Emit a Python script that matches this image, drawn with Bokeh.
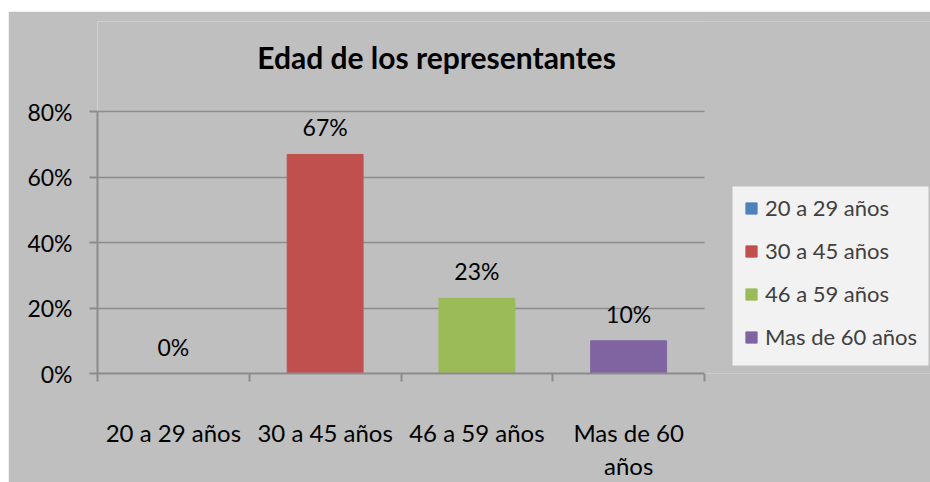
from bokeh.plotting import figure
from bokeh.models import (ColumnDataSource, Range1d, FixedTicker,
                          NumeralTickFormatter, LinearAxis, BoxAnnotation,
                          LabelSet, Label, Legend, LegendItem, Spacer)
from bokeh.layouts import column, row
from bokeh.core.properties import value
from bokeh.embed import file_html
from bokeh.resources import INLINE

# ---- data ----
categories = ["20 a 29 años", "30 a 45 años", "46 a 59 años", "Mas de 60 años"]
values = [0.0, 0.67, 0.23, 0.10]
value_labels = ["0%", "67%", "23%", "10%"]
colors = ["#4f81bd", "#c0504d", "#9bbb59", "#8064a2"]
y_ticks = [0, 0.2, 0.4, 0.6, 0.8]
category_tick_labels = ["20 a 29 años", "30 a 45 años", "46 a 59 años", "Mas de 60\naños"]
title_text = "Edad de los representantes"

FONT = "Lato"
BG = "#bfbfbf"
LINE = "#8c8c8c"

n = len(categories)
centers = [i + 0.5 for i in range(n)]
src = ColumnDataSource(dict(x=centers, cat=categories, val=values,
                            lab=value_labels, color=colors))

# layout geometry (pixels)
W, H = 922, 471
LEFT, TOP, BOTTOM = 89, 10, 107
PLOT_W = 607          # width taken by the four categories
ZERO_TO_80 = 263      # pixels from 0% to 80%
frame_w = W - LEFT
frame_h = H - TOP - BOTTOM
x_end = n * frame_w / PLOT_W
y_top = 0.8 * frame_h / ZERO_TO_80
px_x = n / PLOT_W          # data units per pixel (x)
px_y = 0.8 / ZERO_TO_80    # data units per pixel (y)

p = figure(width=W, height=H, x_range=Range1d(0, x_end),
           y_range=Range1d(0, y_top), output_backend="svg", toolbar_location=None,
           x_axis_location=None, min_border_left=LEFT, min_border_right=0,
           min_border_top=TOP, min_border_bottom=BOTTOM)
p.background_fill_color = BG
p.border_fill_color = BG
p.outline_line_color = None

r = p.vbar(x="x", top="val", width=0.5, color="color", source=src)

# y axis
ya = p.yaxis[0]
ya.ticker = FixedTicker(ticks=y_ticks)
ya.bounds = (0, 0.8)
ya.formatter = NumeralTickFormatter(format="0%")
ya.axis_line_color = LINE
ya.axis_line_width = 2
ya.major_tick_line_color = LINE
ya.major_tick_line_width = 2
ya.major_tick_in = 0
ya.major_tick_out = 8
ya.minor_tick_line_color = None
ya.major_label_standoff = 17
ya.major_label_text_font = FONT
ya.major_label_text_font_size = "23px"
ya.major_label_text_color = "#000000"

p.ygrid.ticker = FixedTicker(ticks=y_ticks)
p.ygrid.grid_line_color = LINE
p.ygrid.grid_line_width = 1.5
p.xgrid.grid_line_color = None

# keep the grid inside the category area
p.add_layout(BoxAnnotation(left=n, fill_color=BG, fill_alpha=1.0, line_color=None))

# x axis: boundary tick marks
tick_axis = LinearAxis(ticker=FixedTicker(ticks=list(range(n + 1))), bounds=(0, n))
tick_axis.axis_line_color = LINE
tick_axis.axis_line_width = 2
tick_axis.major_tick_line_color = LINE
tick_axis.major_tick_line_width = 2
tick_axis.major_tick_in = 0
tick_axis.major_tick_out = 8
tick_axis.minor_tick_line_color = None
tick_axis.major_label_text_font_size = "1px"
tick_axis.major_label_text_color = None
tick_axis.major_label_standoff = 0
p.add_layout(tick_axis, "below")

# x axis: category labels
cat_axis = LinearAxis(ticker=FixedTicker(ticks=centers))
cat_axis.major_label_overrides = {c: lab for c, lab in zip(centers, category_tick_labels)}
cat_axis.axis_line_color = None
cat_axis.major_tick_line_color = None
cat_axis.minor_tick_line_color = None
cat_axis.major_tick_in = 0
cat_axis.major_tick_out = 0
cat_axis.major_label_standoff = 36
cat_axis.major_label_text_font = FONT
cat_axis.major_label_text_font_size = "24px"
cat_axis.major_label_text_color = "#000000"
cat_axis.major_label_text_line_height = 1.15
p.add_layout(cat_axis, "below")

# data labels
labels = LabelSet(x="x", y="val", text="lab", source=src, y_offset=18,
                  text_align="center", text_baseline="alphabetic",
                  text_font=value(FONT), text_font_size="23px", text_color="#000000")
p.add_layout(labels)

# title
title = Label(x=339 * px_x, y=318 * px_y, text=title_text,
              text_align="center", text_baseline="middle",
              text_font=FONT, text_font_style="bold", text_font_size="30px",
              text_color="#000000")
p.add_layout(title)

# legend background panel
p.add_layout(BoxAnnotation(left=635 * px_x, right=831 * px_x,
                           bottom=8 * px_y, top=188 * px_y,
                           fill_color="#f2f2f2", fill_alpha=1.0, line_color=None))

# legend
lg = Legend(items=[LegendItem(label=c, renderers=[r], index=i)
                   for i, c in enumerate(categories)])
lg.location = (647, 23)
lg.background_fill_alpha = 0.0
lg.border_line_color = None
lg.glyph_width = 14
lg.glyph_height = 14
lg.label_height = 24
lg.spacing = 16
lg.padding = 0
lg.margin = 0
lg.label_standoff = 7
lg.label_text_font = FONT
lg.label_text_font_size = "22px"
lg.label_text_color = "#404040"
p.add_layout(lg)

layout = column(Spacer(width=930, height=11), row(Spacer(width=8, height=H), p))

open("out.html", "w").write(file_html(layout, INLINE))
